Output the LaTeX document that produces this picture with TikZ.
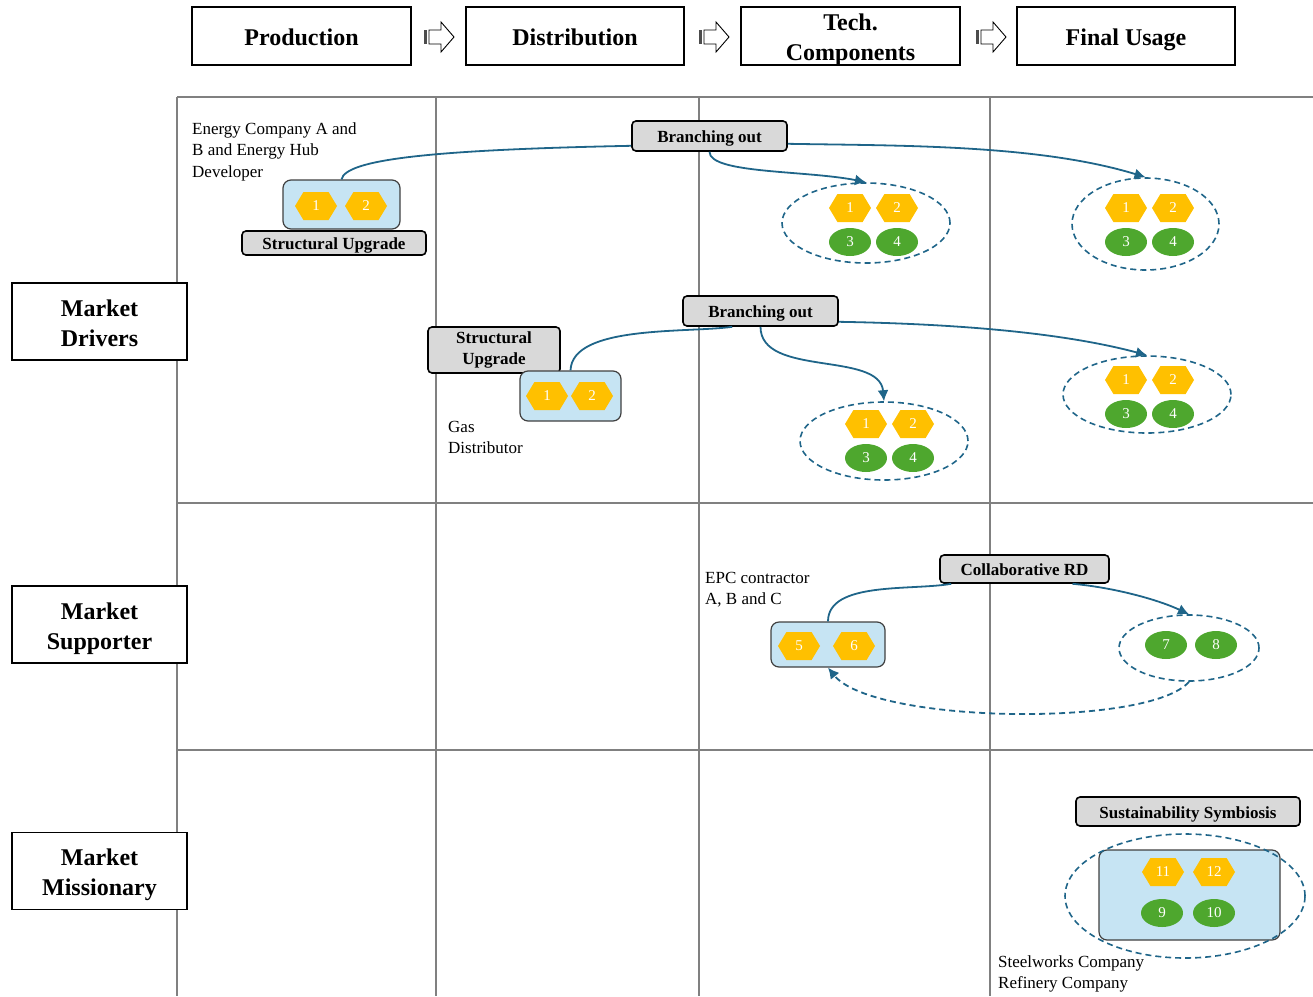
\documentclass[tikz,border=0pt]{standalone}
\usepackage{fontspec}
\setmainfont{Liberation Serif}
\usetikzlibrary{shapes.geometric,shapes.symbols,arrows.meta,calc}

\definecolor{linkblue}{RGB}{31,101,137}
\definecolor{holdfill}{RGB}{198,228,243}
\definecolor{tagfill}{RGB}{217,217,217}
\definecolor{hexgold}{RGB}{255,192,0}
\definecolor{leafgreen}{RGB}{78,167,46}
\definecolor{gridgray}{RGB}{128,128,128}

\tikzset{
  hdr/.style={draw, line width=1.5pt, minimum width=219pt, minimum height=58pt,
    inner sep=0pt, align=center, font=\fontsize{24}{30}\selectfont\bfseries},
  hdrtext/.style={inner sep=0pt, align=center,
    font=\fontsize{24}{30}\selectfont\bfseries},
  onerow/.style={text height=24pt, text depth=6pt},
  rowlab/.style={draw, fill=white, line width=1.5pt, minimum width=175pt,
    minimum height=77pt, inner sep=0pt},
  rowtext/.style={inner sep=0pt, align=center,
    font=\fontsize{24}{30}\selectfont\bfseries},
  tag/.style={draw, fill=tagfill, rounded corners=4pt, line width=1.6pt,
    inner sep=0pt, align=center, font=\fontsize{17}{21}\selectfont\bfseries},
  tagone/.style={tag, text height=17pt, text depth=4pt},
  holder/.style={draw=black!75, fill=holdfill, rounded corners=8pt,
    line width=1.2pt, inner sep=0pt},
  hexn/.style={signal, signal to=east and west, signal pointer angle=118,
    fill=hexgold, text=white, minimum width=42pt, minimum height=28pt,
    inner sep=0pt, font=\fontsize{15}{15}\selectfont},
  leaf/.style={ellipse, fill=leafgreen, text=white, minimum width=42pt,
    minimum height=28pt, inner sep=0pt, font=\fontsize{15}{15}\selectfont},
  grp/.style={ellipse, draw=linkblue, line width=1.6pt,
    dash pattern=on 6pt off 4pt, inner sep=0pt},
  link/.style={draw=linkblue, line width=1.8pt},
  tip/.style={-{Latex[length=11pt,width=11pt]}},
  note/.style={anchor=north west, inner sep=0pt, align=left,
    font=\fontsize{17}{21.4}\selectfont},
  gridline/.style={draw=gridgray, line width=1.5pt},
  hdrarrow/.pic={
    \fill[black!70] (0,-7) rectangle (3,7);
    \draw[line width=0.9pt] (5,-7) -- (17,-7) -- (17,-15) -- (30,0)
      -- (17,15) -- (17,7) -- (5,7) -- cycle;
  }
}

\begin{document}
\begin{tikzpicture}[x=1pt,y=-1pt]
\useasboundingbox (0,0) rectangle (1313,996);

% lane grid
\draw[gridline] (177,97) -- (1313,97);
\draw[gridline] (177,503) -- (1313,503);
\draw[gridline] (177,750) -- (1313,750);
\foreach \gx in {177,436,699,990}
  \draw[gridline] (\gx,97) -- (\gx,996);

% value-chain header
\node[hdr, onerow] (prod) at (301.5,36) {Production};
\node[hdr, onerow, minimum width=218pt] (dist) at (575,36) {Distribution};
\node[hdr] (tech) at (850.5,36) {};
\node[hdrtext] (techtxt) at (850.5,40) {Tech.\\Components};
\node[hdr, onerow, minimum width=218pt] (final) at (1126,36) {Final Usage};
\pic at (424,37) {hdrarrow};
\pic at (699,37) {hdrarrow};
\pic at (976,37) {hdrarrow};

% row labels
\node[rowlab] (drivers) at (99.5,321.5) {};
\node[rowtext] (driverstxt) at (99.5,323.5) {Market\\Drivers};
\node[rowlab] (supporter) at (99.5,624.5) {};
\node[rowtext] (supportertxt) at (99.5,628.5) {Market\\Supporter};
\node[rowlab] (missionary) at (99.5,871) {};
\node[rowtext] (missionarytxt) at (99.5,875) {Market\\Missionary};

% --- Market Drivers, energy companies
\node[note] (t1) at (192,122.5) {Energy Company A and\\B and Energy Hub\\Developer};
\node[holder, minimum width=117pt, minimum height=49pt] (h1) at (341.5,204.5) {};
\node[hexn] (h1a) at (316,206) {1};
\node[hexn] (h1b) at (366,206) {2};
\node[tagone, minimum width=184pt, minimum height=24pt] (su1) at (334,243) {Structural Upgrade};
\node[tagone, minimum width=155pt, minimum height=30pt] (bo1) at (709.5,136) {Branching out};

\node[grp, minimum width=168pt, minimum height=80pt] (g1a) at (866,223) {};
\node[hexn] (g1a1) at (850,208) {1};
\node[hexn] (g1a2) at (897,208) {2};
\node[leaf] (g1a3) at (850,242) {3};
\node[leaf] (g1a4) at (897,242) {4};

\node[grp, minimum width=147pt, minimum height=92pt] (g1b) at (1145.5,224) {};
\node[hexn] (g1b1) at (1126,208) {1};
\node[hexn] (g1b2) at (1173,208) {2};
\node[leaf] (g1b3) at (1126,242) {3};
\node[leaf] (g1b4) at (1173,242) {4};

\draw[link] (h1.north) .. controls +(4,-20) and +(-200,4) .. ($(bo1.south west)+(0,-6)$);
\draw[link, tip] ($(bo1.south east)+(0,-8)$) to[out=-1, in=163, looseness=0.8] (g1b.north);
\draw[link, tip] (bo1.south) .. controls +(0,22) and +(-60,-12) .. (g1a.north);

% --- Market Drivers, gas distributor
\node[tag, minimum width=132pt, minimum height=46pt] (su2) at (494,350) {Structural\\Upgrade};
\node[holder, minimum width=101pt, minimum height=50pt] (h2) at (570.5,396) {};
\node[hexn] (h2a) at (547,396) {1};
\node[hexn] (h2b) at (592,396) {2};
\node[note] (t2) at (448,421) {Gas\\Distributor};
\node[tagone, minimum width=155pt, minimum height=30pt] (bo2) at (760.5,311) {Branching out};

\node[grp, minimum width=168pt, minimum height=78pt] (g2a) at (884,441) {};
\node[hexn] (g2a1) at (866,424) {1};
\node[hexn] (g2a2) at (913,424) {2};
\node[leaf] (g2a3) at (866,458) {3};
\node[leaf] (g2a4) at (913,458) {4};

\node[grp, minimum width=168pt, minimum height=77pt] (g2b) at (1147,394.5) {};
\node[hexn] (g2b1) at (1126,380) {1};
\node[hexn] (g2b2) at (1173,380) {2};
\node[leaf] (g2b3) at (1126,414) {3};
\node[leaf] (g2b4) at (1173,414) {4};

\draw[link] (h2.north) to[out=88, in=188, looseness=0.7] ($(bo2.south west)+(50,0)$);
\draw[link, tip] ($(bo2.south east)+(0,-5)$) to[out=-1, in=165, looseness=0.8] (g2b.north);
\draw[link, tip] (bo2.south) to[out=-90, in=95, looseness=0.9] (g2a.north);

% --- Market Supporter
\node[note] (t3) at (705,572) {EPC contractor\\A, B and C};
\node[holder, minimum width=114pt, minimum height=45pt] (h3) at (828,644.5) {};
\node[hexn] (h3a) at (799,646) {5};
\node[hexn] (h3b) at (854,646) {6};
\node[tagone, minimum width=169pt, minimum height=28pt] (cr) at (1024.5,569) {Collaborative RD};

\node[grp, minimum width=140pt, minimum height=66pt] (g3) at (1189,648) {};
\node[leaf] (g3a) at (1166,645) {7};
\node[leaf] (g3b) at (1216,645) {8};

\draw[link] (h3.north) to[out=90, in=190, looseness=0.8] ($(cr.south west)+(12,0)$);
\draw[link, tip] ($(cr.south)+(48,0)$) to[out=-5, in=155, looseness=0.8] (g3.north);
\draw[link, tip, dash pattern=on 6pt off 4pt] (g3.south) .. controls +(-40,46) and +(45,56) .. (h3.south);

% --- Market Missionary
\node[tagone, minimum width=224pt, minimum height=29pt] (ss) at (1188,811.5) {Sustainability Symbiosis};
\node[holder, minimum width=181pt, minimum height=90pt] (h4) at (1189.5,895) {};
\node[grp, minimum width=240pt, minimum height=124pt] (g4) at (1185,896) {};
\node[hexn] (h4a) at (1163,872) {11};
\node[hexn] (h4b) at (1214,872) {12};
\node[leaf] (h4c) at (1162,913) {9};
\node[leaf] (h4d) at (1214,913) {10};
\node[note] (t4) at (998,955) {Steelworks Company\\Refinery Company};
\end{tikzpicture}
\end{document}
